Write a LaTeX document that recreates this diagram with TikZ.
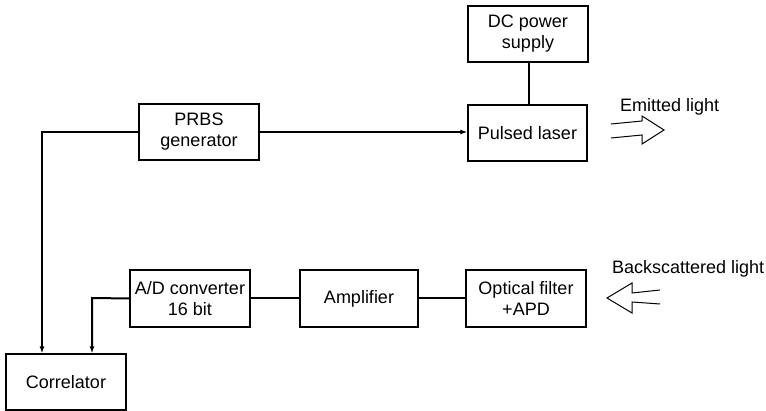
\documentclass[tikz,border=0pt]{standalone}
\usepackage{fontspec}
\setmainfont{Liberation Sans}
\usetikzlibrary{arrows.meta}
\begin{document}
\begin{tikzpicture}[x=1pt,y=-1pt,
  blk/.style={draw,line width=1.2pt,align=center,font=\fontsize{18}{21}\selectfont},
  conn/.style={line width=2pt},
  arr/.style={conn,-{Latex[length=7pt,width=5pt]}},
  hollow/.style={line width=1pt,line join=miter},
  lbl/.style={font=\fontsize{18}{21}\selectfont,anchor=base west,inner sep=0pt}]
\useasboundingbox (0,0) rectangle (766,411);
\newcommand{\bx}[6]{\node[blk,minimum width=#4-#2,minimum height=#5-#3,inner sep=0pt] (#1) at ({(#2+#4)/2},{(#3+#5)/2}) {#6};}
\bx{dc}{468}{6}{588}{62}{DC power\\supply}
\bx{laser}{468}{105}{587}{161}{Pulsed laser}
\bx{prbs}{139}{104}{259}{160}{PRBS\\generator}
\bx{adc}{130}{270}{250}{327}{A/D converter\\16 bit}
\bx{amp}{300}{270}{418}{327}{Amplifier}
\bx{opt}{466}{270}{586}{327}{Optical filter\\+APD}
\bx{corr}{6}{354}{126}{410}{Correlator}
\coordinate (c1) at (42,132);
\coordinate (c2) at (92,298);
\draw[arr] (prbs.west |- 0,132) -- (c1) -- (c1 |- corr.north);
\draw[arr] (adc.west) -- (c2) -- (c2 |- corr.north);
\draw[arr] (prbs.east |- 0,132) -- (laser.west |- 0,132);
\draw[conn] (dc.south -| 529,0) -- (laser.north -| 529,0);
\draw[conn] (adc.east) -- (amp.west);
\draw[conn] (amp.east) -- (opt.west);
% emitted light arrow
\draw[hollow] (611,124) -- (642,121) -- (642,116) -- (664,130) -- (642,144) -- (642,135) -- (611,138);
\node[lbl] (em) at (620,112) {Emitted light};
% backscattered arrow
\draw[hollow] (660,290) -- (632,293) -- (632,283) -- (607,298) -- (632,313) -- (632,302) -- (660,304);
\node[lbl] (bs) at (612,274) {Backscattered light};
\end{tikzpicture}
\end{document}
